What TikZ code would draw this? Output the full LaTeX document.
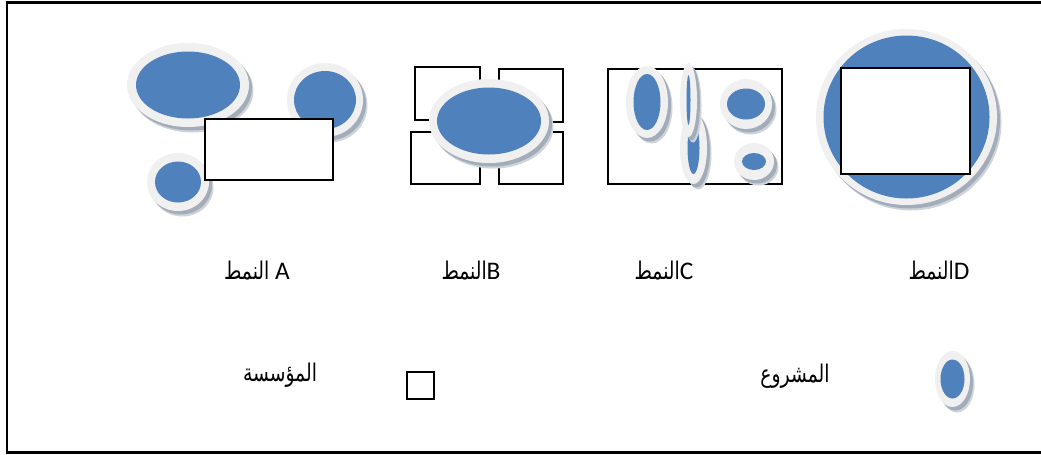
\documentclass[tikz,border=0pt]{standalone}
\usepackage{fontspec}
\usepackage{graphicx}
\setmainfont{Carlito}
\newfontfamily\arabicfont[Script=Arabic,Scale=0.74]{DejaVu Sans}
\TeXXeTstate=1
\definecolor{projblue}{HTML}{4F81BD}
\definecolor{ringgrey}{HTML}{F0F0F0}
\definecolor{shadowgrey}{HTML}{A3ACB9}
\definecolor{shadowsoft}{HTML}{CFD4DB}
\tikzset{
  inst/.style={draw=black, fill=white, line width=1.4pt},
  frameline/.style={draw=black, line width=1.6pt},
  lbl/.style={font=\fontsize{19}{22}\selectfont, inner sep=0pt},
}
% Arabic word, set right to left and a little taller
\newcommand\arword[1]{\scalebox{1}[1.3]{\arabicfont\beginR #1\endR}}
% a project: shadow, light ring and blue core
% #1 centre, #2/#3 ring radii, #4/#5 core radii
\newcommand\projshape[5]{%
  \fill[shadowsoft] ($(#1)+(4.5,5.5)$) ellipse [x radius=#2, y radius=#3];
  \fill[shadowgrey] ($(#1)+(3,3.5)$) ellipse [x radius=#2, y radius=#3];
  \fill[ringgrey] (#1) ellipse [x radius=#2, y radius=#3];
  \fill[projblue] (#1) ellipse [x radius=#4, y radius=#5];
}
\usetikzlibrary{calc}
\begin{document}
\begin{tikzpicture}[x=0.75pt, y=-0.75pt]
\useasboundingbox (0,0) rectangle (1041,454);
\fill[white] (0,0) rectangle (1041,454);
% outer frame (its right side lies beyond the page)
\draw[frameline] (1050,2.5) -- (7,2.5) -- (7,452.5) -- (1050,452.5);

% ---- pattern A ----
\projshape{188,85}{61}{42}{52}{33.5}
\projshape{325,100}{38}{37}{31}{29}
\projshape{178,182}{31}{29}{23}{20.5}
\draw[inst] (205,119) rectangle (333,180);

% ---- pattern B ----
\draw[inst] (415,67) rectangle (480,120);
\draw[inst] (499,69) rectangle (563,122);
\draw[inst] (411,132) rectangle (480,184);
\draw[inst] (499,132) rectangle (563,184);
\projshape{489,121}{60}{42}{52}{33.5}

% ---- pattern C ----
\draw[inst] (608,69) rectangle (782,184);
\projshape{647,102}{21}{36}{13.5}{28}
\projshape{693.5,148}{13.5}{36}{6}{26}
\projshape{688.5,100}{8.5}{37}{2}{25}
\projshape{746,104}{26}{25}{19}{15.5}
\projshape{754,161.5}{20}{18.5}{12}{8.5}

% ---- pattern D ----
\projshape{906.5,117}{90.5}{88}{83}{81.5}
\draw[inst] (841,68) rectangle (970,174);

% ---- captions ----
\node[lbl] (capA) at (257,271) {\arword{النمط}\ A};
\node[lbl] (capB) at (471,271) {\arword{النمط}B};
\node[lbl] (capC) at (664,271) {\arword{النمط}C};
\node[lbl] (capD) at (939,271) {\arword{النمط}D};

% ---- legend ----
\node[lbl] (legInst) at (280,375) {\arword{المؤسسة}};
\draw[inst] (407,372) rectangle (434,399);
\node[lbl] (legProj) at (795,376) {\arword{المشروع}};
\projshape{952.5,379}{17.5}{28}{12}{19.5}
\end{tikzpicture}
\end{document}
